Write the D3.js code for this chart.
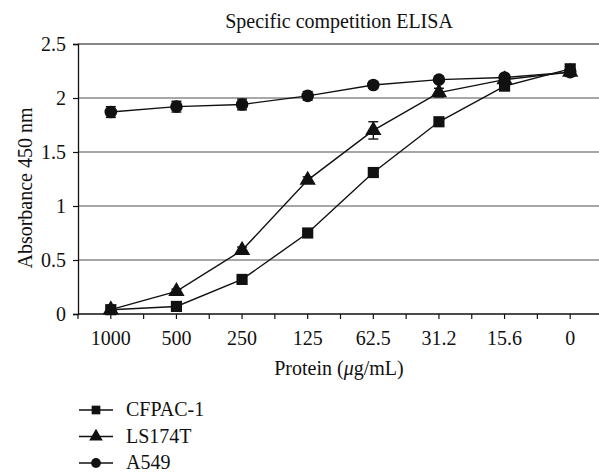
<!DOCTYPE html>
<html>
<head>
<meta charset="utf-8">
<script src="https://cdn.jsdelivr.net/npm/d3@7"></script>
<style>
  body { margin: 0; background: #fff; }
</style>
</head>
<body>
<svg id="chart" width="599" height="472" font-family="Liberation Serif, serif"></svg>
<script>
// data
let doses = ["1000", "500", "250", "125", "62.5", "31.2", "15.6", "0"];
let cfpac = [0.04, 0.07, 0.32, 0.75, 1.31, 1.78, 2.11, 2.27];
let cfpacErr = [0.02, 0.02, 0.02, 0.02, 0.03, 0.03, 0.03, 0.04];
let ls174t = [0.04, 0.21, 0.59, 1.24, 1.70, 2.05, 2.17, 2.24];
let ls174tErr = [0.02, 0.02, 0.03, 0.03, 0.08, 0.04, 0.03, 0.04];
let a549 = [1.87, 1.92, 1.94, 2.02, 2.12, 2.17, 2.19, 2.24];
let a549Err = [0.05, 0.05, 0.05, 0.04, 0.03, 0.02, 0.02, 0.03];
let yTicks = [0, 0.5, 1, 1.5, 2, 2.5];

let series = [
  {name: "CFPAC-1", values: cfpac, err: cfpacErr, shape: d3.symbolSquare},
  {name: "LS174T", values: ls174t, err: ls174tErr, shape: d3.symbolTriangle},
  {name: "A549", values: a549, err: a549Err, shape: d3.symbolCircle}
];

let font = "Liberation Serif, serif";
let fs = 20;
let svg = d3.select("#chart");
let plotLeft = 78, plotRight = 603, plotTop = 44, plotBottom = 314;

let x = d3.scaleBand().domain(doses).range([plotLeft, plotRight]);
let y = d3.scaleLinear().domain([0, 2.5]).range([plotBottom, plotTop]);

// grid lines
svg.append("g").selectAll("line").data(yTicks.filter(d => d > 0))
  .enter().append("line")
  .attr("x1", plotLeft).attr("x2", 599)
  .attr("y1", d => y(d)).attr("y2", d => y(d))
  .attr("stroke", d => d == 2.5 ? "#111" : "#8a8a8a")
  .attr("stroke-width", d => d == 2.5 ? 1.2 : 1.5);

// y axis
let yAxis = svg.append("g").attr("transform", "translate(" + plotLeft + ",0)")
  .call(d3.axisLeft(y).tickValues(yTicks).tickFormat(d3.format("")).tickSize(5).tickPadding(7));
yAxis.attr("font-family", font).attr("font-size", fs);
yAxis.select(".domain").attr("stroke", "#111").attr("stroke-width", 1.3);
yAxis.selectAll(".tick line").attr("stroke", "#111").attr("stroke-width", 1.2);
yAxis.selectAll("text").attr("fill", "#111");

// x axis: ticks at band centres and band edges
let xAxis = svg.append("g").attr("transform", "translate(0," + plotBottom + ")");
xAxis.append("line").attr("x1", plotLeft).attr("x2", 599).attr("stroke", "#111").attr("stroke-width", 1.3);
let edges = doses.map(d => x(d));
let centers = doses.map(d => x(d) + x.bandwidth() / 2);
xAxis.selectAll(".tk").data(edges.concat(centers).filter(v => v < 599))
  .enter().append("line").attr("class", "tk")
  .attr("x1", d => d).attr("x2", d => d).attr("y1", 0).attr("y2", 5)
  .attr("stroke", "#111").attr("stroke-width", 1.2);
xAxis.selectAll("text").data(doses).enter().append("text")
  .attr("x", d => x(d) + x.bandwidth() / 2).attr("y", 31)
  .attr("text-anchor", "middle").attr("font-size", fs).attr("fill", "#111")
  .text(d => d);

// lines, error bars, markers
let line = d3.line().x((d, i) => x(doses[i]) + x.bandwidth() / 2).y(d => y(d));

series.forEach(s => {
  svg.append("path").datum(s.values).attr("d", line)
    .attr("fill", "none").attr("stroke", "#111").attr("stroke-width", 1.4);

  let eb = svg.append("g").selectAll("g").data(s.values).enter().append("g")
    .attr("transform", (d, i) => "translate(" + (x(doses[i]) + x.bandwidth() / 2) + ",0)");
  eb.append("line").attr("x1", 0).attr("x2", 0)
    .attr("y1", (d, i) => y(d - s.err[i])).attr("y2", (d, i) => y(d + s.err[i]))
    .attr("stroke", "#111").attr("stroke-width", 1.4);
  eb.append("line").attr("x1", -5).attr("x2", 5)
    .attr("y1", (d, i) => y(d - s.err[i])).attr("y2", (d, i) => y(d - s.err[i]))
    .attr("stroke", "#111").attr("stroke-width", 1.4);
  eb.append("line").attr("x1", -5).attr("x2", 5)
    .attr("y1", (d, i) => y(d + s.err[i])).attr("y2", (d, i) => y(d + s.err[i]))
    .attr("stroke", "#111").attr("stroke-width", 1.4);

  svg.append("g").selectAll("path").data(s.values).enter().append("path")
    .attr("d", d3.symbol().type(s.shape).size(s.shape == d3.symbolTriangle ? 115 : 125))
    .attr("transform", (d, i) => "translate(" + (x(doses[i]) + x.bandwidth() / 2) + "," + y(d) + ")")
    .attr("fill", "#111");
});

// title and axis titles
svg.append("text").attr("x", 339).attr("y", 28).attr("text-anchor", "middle")
  .attr("font-size", fs).attr("fill", "#111").text("Specific competition ELISA");

svg.append("text").attr("transform", "translate(32,188) rotate(-90)")
  .attr("text-anchor", "middle").attr("font-size", fs).attr("fill", "#111").text("Absorbance 450 nm");

let xt = svg.append("text").attr("x", 339).attr("y", 375).attr("text-anchor", "middle")
  .attr("font-size", fs).attr("fill", "#111");
xt.append("tspan").text("Protein (");
xt.append("tspan").attr("font-style", "italic").text("μ");
xt.append("tspan").text("g/mL)");

// legend
let legend = svg.append("g").selectAll("g").data(series).enter().append("g")
  .attr("transform", (d, i) => "translate(79," + (410 + i * 26.5) + ")");
legend.append("line").attr("x1", 0).attr("x2", 34)
  .attr("stroke", "#111").attr("stroke-width", 1.6);
legend.append("path")
  .attr("d", d => d3.symbol().type(d.shape).size(d.shape == d3.symbolTriangle ? 80 : 75)())
  .attr("transform", "translate(17,0)").attr("fill", "#111");
legend.append("text").attr("x", 47).attr("y", 6).attr("font-size", fs).attr("fill", "#111")
  .text(d => d.name);
</script>
</body>
</html>
